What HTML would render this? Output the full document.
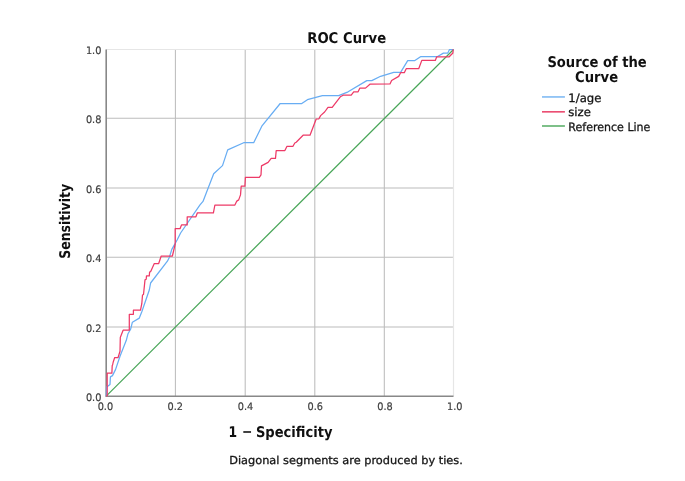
<!DOCTYPE html>
<html lang="en">
<head>
<meta charset="utf-8">
<title>ROC Curve</title>
<style>
html,body{margin:0;padding:0;background:#ffffff;}
body{width:685px;height:481px;overflow:hidden;}
svg{display:block;filter:blur(0.38px);}
svg text{text-rendering:geometricPrecision;}
</style>
</head>
<body>
<svg width="685" height="481" viewBox="0 0 685 481">
<rect x="0" y="0" width="685" height="481" fill="#ffffff"/>
<g stroke="#bcbcbc" stroke-width="1.05" fill="none">
<line x1="175.4" y1="49.5" x2="175.4" y2="396.2"/>
<line x1="245.2" y1="49.5" x2="245.2" y2="396.2"/>
<line x1="314.8" y1="49.5" x2="314.8" y2="396.2"/>
<line x1="384.3" y1="49.5" x2="384.3" y2="396.2"/>
<line x1="106.2" y1="327.0" x2="453.5" y2="327.0"/>
<line x1="106.2" y1="257.3" x2="453.5" y2="257.3"/>
<line x1="106.2" y1="187.9" x2="453.5" y2="187.9"/>
<line x1="106.2" y1="118.3" x2="453.5" y2="118.3"/>
</g>
<path d="M106.2,49.5 H453.5 V396.2" stroke="#e6e6e6" stroke-width="1.2" fill="none"/>
<path d="M106.2,49.5 V396.2 H453.5" stroke="#888888" stroke-width="1.6" fill="none"/>
<line x1="106.2" y1="396.2" x2="453.5" y2="49.5" stroke="#47a557" stroke-width="1.2"/>
<polyline points="106.2,396.2 106.6,386.9 107.7,386.2 110.0,384.4 110.4,376.9 112.5,375.6 115.6,369.4 120.0,356.2 126.3,340.3 128.0,333.7 130.6,329.3 132.4,322.2 139.3,318.1 141.8,311.8 149.3,290.0 150.6,283.0 167.4,261.2 169.3,257.5 171.8,249.4 177.1,240.0 180.6,233.0 200.0,204.9 203.0,201.4 207.4,190.0 213.7,173.7 222.5,165.6 227.7,149.9 243.7,142.7 253.7,142.7 261.8,126.2 280.2,103.5 301.8,103.5 307.4,99.7 322.4,95.7 338.7,95.7 348.1,91.8 366.8,80.6 371.8,80.6 380.6,76.3 393.7,72.4 400.6,72.4 407.7,60.6 414.9,60.6 420.5,56.7 437.2,56.7 443.4,53.1 447.8,53.1 449.5,49.5 453.5,49.5" fill="none" stroke="#68adf3" stroke-width="1.25" stroke-linejoin="round"/>
<polyline points="106.2,396.2 107.2,395.5 107.2,373.1 111.9,373.1 112.2,365.6 112.6,365.0 113.1,362.5 114.7,357.5 118.1,357.5 120.0,351.2 120.3,337.4 123.1,330.2 129.3,330.2 129.3,314.3 133.4,314.3 133.4,310.2 140.5,310.2 141.8,303.7 142.5,295.0 143.5,294.5 145.0,279.9 146.2,279.3 146.5,275.9 149.3,275.9 149.6,272.0 150.7,271.6 154.3,263.5 158.7,263.5 161.2,256.0 172.4,256.0 175.2,244.0 175.2,228.7 180.0,228.7 181.5,224.9 187.2,224.9 187.2,216.8 195.9,216.8 197.4,212.8 213.4,212.8 214.9,205.0 234.9,205.0 236.8,201.1 238.7,199.9 240.5,194.9 241.2,186.2 244.9,186.2 245.4,177.4 259.3,177.4 261.0,174.9 261.5,165.9 268.1,162.4 271.2,158.4 275.5,158.4 276.2,150.6 284.9,150.6 287.0,146.3 293.0,146.3 294.8,143.0 296.2,142.2 303.1,135.2 310.0,135.2 316.2,119.0 318.9,118.8 320.6,115.6 324.6,112.0 328.0,107.4 332.2,107.4 340.3,96.8 343.2,95.2 351.2,95.2 353.7,91.8 358.1,91.8 359.9,88.1 365.5,88.1 369.9,84.2 390.0,84.0 391.6,80.5 398.7,76.4 400.6,72.7 404.3,72.7 406.2,68.7 418.7,68.7 421.8,60.4 435.3,60.4 436.7,56.8 449.2,56.8 452.9,53.0 453.1,49.6 453.5,49.5" fill="none" stroke="#ed3a67" stroke-width="1.25" stroke-linejoin="round"/>
<g font-family="'DejaVu Sans', 'Liberation Sans', sans-serif" font-size="10.3" fill="#3e3e3e" stroke="#3e3e3e" stroke-width="0.2">
<text x="101.4" y="400.8" text-anchor="end" textLength="15.5" lengthAdjust="spacingAndGlyphs">0.0</text>
<text x="105.4" y="410.2" text-anchor="middle" textLength="15.5" lengthAdjust="spacingAndGlyphs">0.0</text>
<text x="101.4" y="331.6" text-anchor="end" textLength="15.5" lengthAdjust="spacingAndGlyphs">0.2</text>
<text x="175.2" y="410.2" text-anchor="middle" textLength="15.5" lengthAdjust="spacingAndGlyphs">0.2</text>
<text x="101.4" y="261.9" text-anchor="end" textLength="15.5" lengthAdjust="spacingAndGlyphs">0.4</text>
<text x="245.5" y="410.2" text-anchor="middle" textLength="15.5" lengthAdjust="spacingAndGlyphs">0.4</text>
<text x="101.4" y="192.5" text-anchor="end" textLength="15.5" lengthAdjust="spacingAndGlyphs">0.6</text>
<text x="315.2" y="410.2" text-anchor="middle" textLength="15.5" lengthAdjust="spacingAndGlyphs">0.6</text>
<text x="101.4" y="122.9" text-anchor="end" textLength="15.5" lengthAdjust="spacingAndGlyphs">0.8</text>
<text x="385.0" y="410.2" text-anchor="middle" textLength="15.5" lengthAdjust="spacingAndGlyphs">0.8</text>
<text x="101.4" y="54.1" text-anchor="end" textLength="15.5" lengthAdjust="spacingAndGlyphs">1.0</text>
<text x="454.7" y="410.2" text-anchor="middle" textLength="15.5" lengthAdjust="spacingAndGlyphs">1.0</text>
</g>
<g font-family="'DejaVu Sans', 'Liberation Sans', sans-serif" font-weight="bold" font-size="14.7" fill="#101010">
<text x="307.2" y="42.6" textLength="79" lengthAdjust="spacingAndGlyphs">ROC Curve</text>
<text y="437.2"><tspan x="228.6" textLength="8.6" lengthAdjust="spacingAndGlyphs">1</tspan><tspan x="240" textLength="3" lengthAdjust="spacingAndGlyphs"> </tspan><tspan x="242.6" dy="-0.9" font-weight="normal" stroke="#101010" stroke-width="0.5" textLength="9.4" lengthAdjust="spacingAndGlyphs">-</tspan><tspan x="252" dy="0.9" textLength="3" lengthAdjust="spacingAndGlyphs"> </tspan><tspan x="255.9" textLength="76.6" lengthAdjust="spacingAndGlyphs">Specificity</tspan></text>
<text transform="translate(70.4,258.8) rotate(-90)" textLength="75" lengthAdjust="spacingAndGlyphs">Sensitivity</text>
<text x="547.4" y="67.1" textLength="99.3" lengthAdjust="spacingAndGlyphs">Source of the</text>
<text x="575.0" y="82.0" textLength="43.1" lengthAdjust="spacingAndGlyphs">Curve</text>
</g>
<g stroke-width="1.4">
<line x1="542" y1="96.95" x2="564.9" y2="96.95" stroke="#6eb0f2"/>
<line x1="542" y1="111.85" x2="564.9" y2="111.85" stroke="#e8305a"/>
<line x1="542" y1="126.0" x2="564.9" y2="126.0" stroke="#47a557"/>
</g>
<g font-family="'DejaVu Sans', 'Liberation Sans', sans-serif" font-size="11.5" fill="#161616" stroke="#161616" stroke-width="0.3">
<text x="568.3" y="101.8" textLength="33.2" lengthAdjust="spacingAndGlyphs">1/age</text>
<text x="568.3" y="116.4" textLength="22.6" lengthAdjust="spacingAndGlyphs">size</text>
<text x="568.3" y="131.0" textLength="82.1" lengthAdjust="spacingAndGlyphs">Reference Line</text>
</g>
<g font-family="'DejaVu Sans', 'Liberation Sans', sans-serif" font-size="11" fill="#161616" stroke="#161616" stroke-width="0.3">
<text x="229.2" y="463.6" textLength="233.6" lengthAdjust="spacingAndGlyphs">Diagonal segments are produced by ties.</text>
</g>
</svg>
</body>
</html>
